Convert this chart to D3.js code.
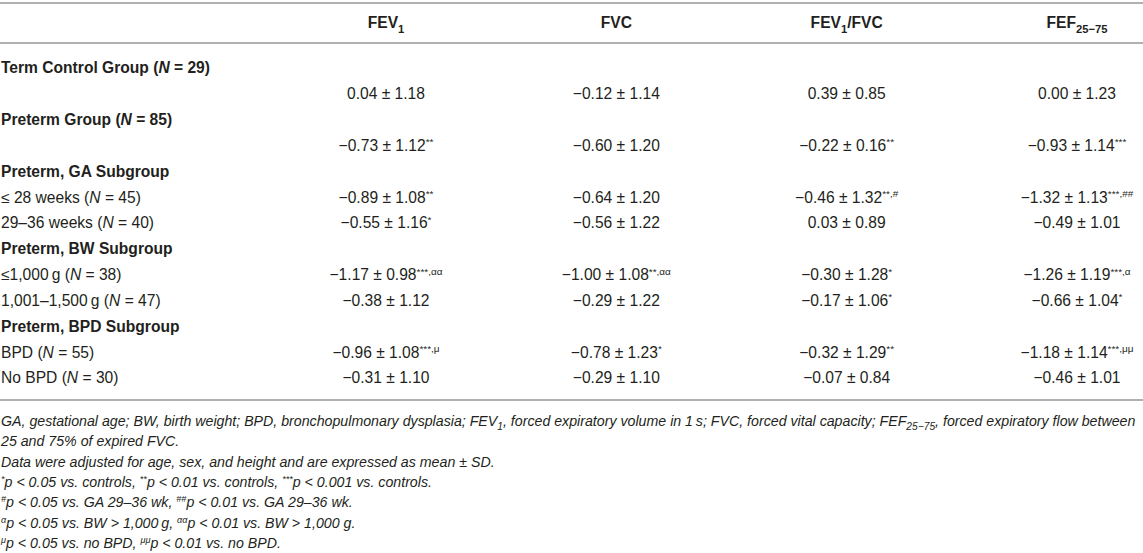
<!DOCTYPE html>
<html>
<head>
<meta charset="utf-8">
<script src="https://cdn.jsdelivr.net/npm/d3@7/dist/d3.min.js"></script>
<style>
  html, body { margin: 0; padding: 0; background: #fff; }
  svg { display: block; }
</style>
</head>
<body>
<script>
// ---------- DATA ----------
const metrics = ["FEV_{1}", "FVC", "FEV_{1}/FVC", "FEF_{25−75}"];

const rowLabels = [
  "Term Control Group (~N~ = 29)", "",
  "Preterm Group (~N~ = 85)", "",
  "Preterm, GA Subgroup",
  "≤ 28 weeks (~N~ = 45)",
  "29–36 weeks (~N~ = 40)",
  "Preterm, BW Subgroup",
  "≤1,000\u2009g (~N~ = 38)",
  "1,001–1,500\u2009g (~N~ = 47)",
  "Preterm, BPD Subgroup",
  "BPD (~N~ = 55)",
  "No BPD (~N~ = 30)"
];
const rowIsHeading = [true, false, true, false, true, false, false, true, false, false, true, false, false];
const valueRows = [1, 3, 5, 6, 8, 9, 11, 12];

const fev1Mean = [0.04, -0.73, -0.89, -0.55, -1.17, -0.38, -0.96, -0.31];
const fev1SD   = [1.18, 1.12, 1.08, 1.16, 0.98, 1.12, 1.08, 1.10];
const fev1Sig  = ["", "**", "**", "*", "***,αα", "", "***,μ", ""];

const fvcMean = [-0.12, -0.60, -0.64, -0.56, -1.00, -0.29, -0.78, -0.29];
const fvcSD   = [1.14, 1.20, 1.20, 1.22, 1.08, 1.22, 1.23, 1.10];
const fvcSig  = ["", "", "", "", "**,αα", "", "*", ""];

const ratioMean = [0.39, -0.22, -0.46, 0.03, -0.30, -0.17, -0.32, -0.07];
const ratioSD   = [0.85, 0.16, 1.32, 0.89, 1.28, 1.06, 1.29, 0.84];
const ratioSig  = ["", "**", "**,#", "", "*", "*", "**", ""];

const fefMean = [0.00, -0.93, -1.32, -0.49, -1.26, -0.66, -1.18, -0.46];
const fefSD   = [1.23, 1.14, 1.13, 1.01, 1.19, 1.04, 1.14, 1.01];
const fefSig  = ["", "***", "***,##", "", "***,α", "*", "***,μμ", ""];

const footnotes = [
  "GA, gestational age; BW, birth weight; BPD, bronchopulmonary dysplasia; FEV_{1}, forced expiratory volume in 1\u2009s; FVC, forced vital capacity; FEF_{25−75}, forced expiratory flow between",
  "25 and 75% of expired FVC.",
  "Data were adjusted for age, sex, and height and are expressed as mean ± SD.",
  "^{*}p < 0.05 vs. controls, ^{**}p < 0.01 vs. controls, ^{***}p < 0.001 vs. controls.",
  "^{#}p < 0.05 vs. GA 29–36 wk, ^{##}p < 0.01 vs. GA 29–36 wk.",
  "^{α}p < 0.05 vs. BW > 1,000\u2009g, ^{αα}p < 0.01 vs. BW > 1,000 g.",
  "^{μ}p < 0.05 vs. no BPD, ^{μμ}p < 0.01 vs. no BPD."
];

// ---------- LAYOUT ----------
const W = 1143, H = 553;
const textColor = "#231f20";
const ruleColor = "#b0b0b0";
const bodySize = 15.6, footSize = 14.2;

const series = [
  { mean: fev1Mean, sd: fev1SD, sig: fev1Sig },
  { mean: fvcMean, sd: fvcSD, sig: fvcSig },
  { mean: ratioMean, sd: ratioSD, sig: ratioSig },
  { mean: fefMean, sd: fefSD, sig: fefSig }
];

const svg = d3.select("body").append("svg")
  .attr("width", W).attr("height", H)
  .style("font-family", "'Liberation Sans', Arial, Helvetica, sans-serif");

const x = d3.scalePoint().domain(d3.range(metrics.length)).range([386, 1077]);
const y = d3.scalePoint().domain(d3.range(rowLabels.length)).range([68, 378]);
const fy = d3.scalePoint().domain(d3.range(footnotes.length)).range([421, 543]);
const fmt = d3.format(".2f");

// rich text helper: _{..} subscript, ^{..} superscript, ~..~ italic toggle
function rich(textSel, str, size) {
  let i = 0, italic = false, buf = "";
  const segs = [];
  const flush = () => { if (buf) segs.push({ t: buf, mode: "n", it: italic }); buf = ""; };
  while (i < str.length) {
    const c = str[i];
    if ((c === "_" || c === "^") && str[i + 1] === "{") {
      flush();
      const end = str.indexOf("}", i);
      segs.push({ t: str.slice(i + 2, end), mode: c === "_" ? "sub" : "sup", it: italic });
      i = end + 1;
    } else if (c === "~") {
      flush(); italic = !italic; i++;
    } else { buf += c; i++; }
  }
  flush();
  let shift = 0;
  segs.forEach(s => {
    const ts = textSel.append("tspan").text(s.t);
    if (s.it) ts.style("font-style", "italic");
    let target = 0;
    if (s.mode === "sub") { target = size * 0.28; ts.style("font-size", (size * 0.72) + "px"); }
    if (s.mode === "sup") { target = -size * 0.36; ts.style("font-size", (size * 0.64) + "px"); }
    if (target !== shift) { ts.attr("dy", target - shift); shift = target; }
  });
}

// rules
const rules = [3, 43, 400];
svg.selectAll("line.rule").data(rules).enter().append("line")
  .attr("class", "rule")
  .attr("x1", 0).attr("x2", W)
  .attr("y1", d => d).attr("y2", d => d)
  .attr("stroke", ruleColor).attr("stroke-width", 2);

// header
svg.selectAll("text.head").data(metrics).enter().append("text")
  .attr("class", "head")
  .attr("x", (d, i) => x(i)).attr("y", 23 + bodySize * 0.35)
  .attr("text-anchor", "middle")
  .attr("fill", textColor)
  .style("font-weight", "bold")
  .style("font-size", bodySize + "px")
  .each(function (d) { rich(d3.select(this), d, bodySize); });

// row labels
svg.selectAll("text.rowlab").data(rowLabels).enter().append("text")
  .attr("class", "rowlab")
  .attr("x", 1).attr("y", (d, i) => y(i) + bodySize * 0.35)
  .attr("fill", textColor)
  .style("font-weight", (d, i) => rowIsHeading[i] ? "bold" : "normal")
  .style("font-size", bodySize + "px")
  .each(function (d) { rich(d3.select(this), d, bodySize); });

// values
series.forEach((s, ci) => {
  svg.append("g").selectAll("text").data(s.mean).enter().append("text")
    .attr("x", x(ci)).attr("y", (d, i) => y(valueRows[i]) + bodySize * 0.35)
    .attr("text-anchor", "middle")
    .attr("fill", textColor)
    .style("font-size", bodySize + "px")
    .each(function (d, i) {
      const str = fmt(d) + " ± " + fmt(s.sd[i]) + (s.sig[i] ? "^{" + s.sig[i] + "}" : "");
      rich(d3.select(this), str, bodySize);
    });
});

// footnotes
svg.selectAll("text.foot").data(footnotes).enter().append("text")
  .attr("class", "foot")
  .attr("x", 1).attr("y", (d, i) => fy(i) + footSize * 0.35)
  .attr("fill", textColor)
  .style("font-style", "italic")
  .style("font-size", footSize + "px")
  .each(function (d) { rich(d3.select(this), d, footSize); });
</script>
</body>
</html>
